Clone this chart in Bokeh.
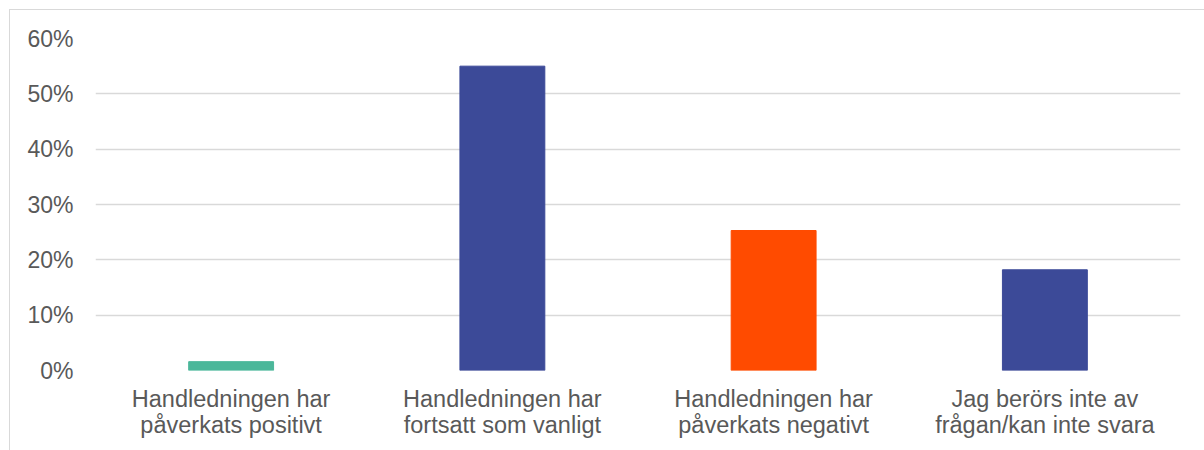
from bokeh.plotting import figure
from bokeh.models import ColumnDataSource, NumeralTickFormatter, FactorRange, Range1d
from bokeh.embed import file_html
from bokeh.resources import INLINE

categories = [
    "Handledningen har\npåverkats positivt",
    "Handledningen har\nfortsatt som vanligt",
    "Handledningen har\npåverkats negativt",
    "Jag berörs inte av\nfrågan/kan inte svara",
]
values = [0.016, 0.55, 0.253, 0.182]
colors = ["#4BB79A", "#3C4A98", "#FF4B00", "#3C4A98"]
y_ticks = [0, 0.1, 0.2, 0.3, 0.4, 0.5, 0.6]

src = ColumnDataSource(dict(cat=categories, val=values, col=colors))

p = figure(
    x_range=FactorRange(*categories, range_padding=0),
    y_range=Range1d(0, 0.6),
    width=1195, height=441,
    frame_width=1085, frame_height=332,
    min_border_left=85, min_border_right=25, min_border_top=28, min_border_bottom=81,
    output_backend="svg", toolbar_location=None,
)
p.styles = {"margin-left": "9px", "margin-top": "9px",
            "border-left": "1.5px solid #d9d9d9", "border-top": "1.5px solid #d9d9d9"}

p.vbar(x="cat", top="val", width=0.313, color="col", source=src)

p.outline_line_color = None
p.xgrid.grid_line_color = None
p.ygrid.grid_line_color = "#d9d9d9"
p.ygrid.grid_line_width = 1.5
p.yaxis.ticker = y_ticks
p.yaxis.formatter = NumeralTickFormatter(format="0%")

for ax in (p.xaxis, p.yaxis):
    ax.axis_line_color = None
    ax.major_tick_line_color = None
    ax.minor_tick_line_color = None
    ax.major_label_text_font = "Liberation Sans"
    ax.major_label_text_color = "#595959"

p.yaxis.major_label_text_font_size = "23px"
p.xaxis.major_label_text_font_size = "23.5px"
p.yaxis.major_label_standoff = 16
p.xaxis.major_label_standoff = 9
p.xaxis.major_label_text_line_height = 1.0

open("out.html", "w").write(file_html(p, INLINE))
